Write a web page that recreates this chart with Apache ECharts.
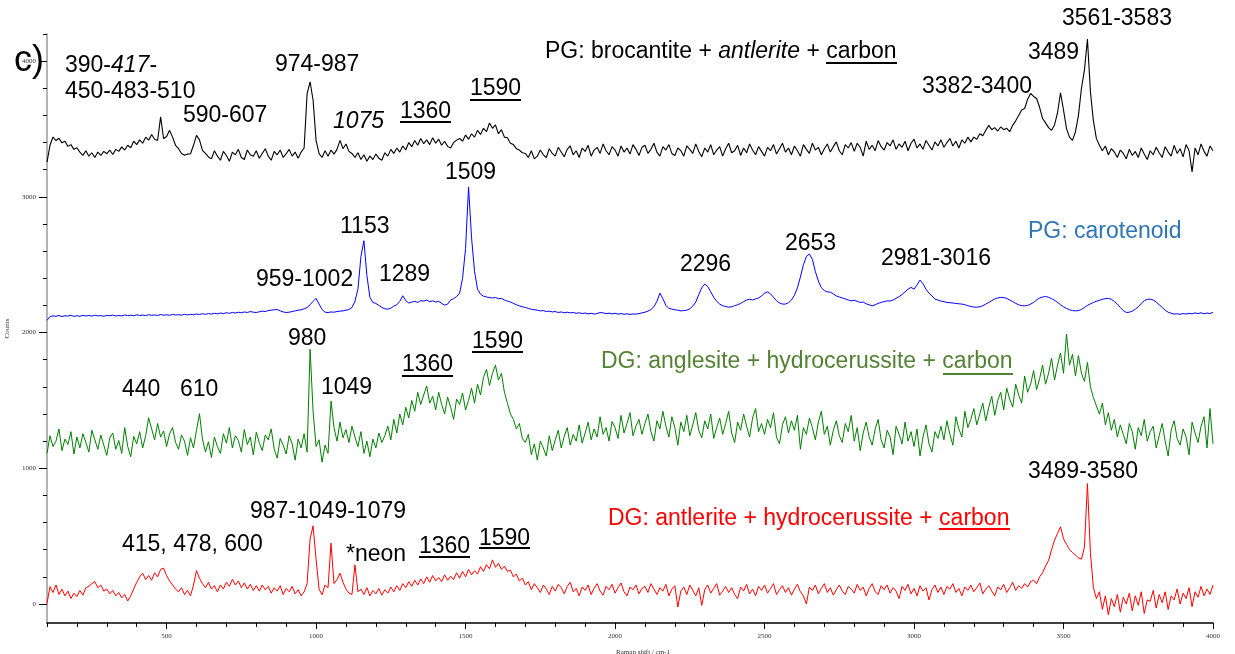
<!DOCTYPE html>
<html><head><meta charset="utf-8">
<script src="https://cdn.jsdelivr.net/npm/echarts@6/dist/echarts.min.js"></script>
<style>html,body{margin:0;padding:0;background:#fff}#chart{width:1235px;height:654px}</style>
</head><body><div id="chart"></div>
<script>
const ramanShift = [
100,110,120,130,140,150,160,170,180,190,
200,210,220,230,240,250,260,270,280,290,
300,310,320,330,340,350,360,370,380,390,
400,410,420,430,440,450,460,470,480,490,
500,510,520,530,540,550,560,570,580,590,
600,610,620,630,640,650,660,670,680,690,
700,710,720,730,740,750,760,770,780,790,
800,810,820,830,840,850,860,870,880,890,
900,910,920,930,940,950,960,970,980,990,
1000,1010,1020,1030,1040,1050,1060,1070,1080,1090,
1100,1110,1120,1130,1140,1150,1160,1170,1180,1190,
1200,1210,1220,1230,1240,1250,1260,1270,1280,1290,
1300,1310,1320,1330,1340,1350,1360,1370,1380,1390,
1400,1410,1420,1430,1440,1450,1460,1470,1480,1490,
1500,1510,1520,1530,1540,1550,1560,1570,1580,1590,
1600,1610,1620,1630,1640,1650,1660,1670,1680,1690,
1700,1710,1720,1730,1740,1750,1760,1770,1780,1790,
1800,1810,1820,1830,1840,1850,1860,1870,1880,1890,
1900,1910,1920,1930,1940,1950,1960,1970,1980,1990,
2000,2010,2020,2030,2040,2050,2060,2070,2080,2090,
2100,2110,2120,2130,2140,2150,2160,2170,2180,2190,
2200,2210,2220,2230,2240,2250,2260,2270,2280,2290,
2300,2310,2320,2330,2340,2350,2360,2370,2380,2390,
2400,2410,2420,2430,2440,2450,2460,2470,2480,2490,
2500,2510,2520,2530,2540,2550,2560,2570,2580,2590,
2600,2610,2620,2630,2640,2650,2660,2670,2680,2690,
2700,2710,2720,2730,2740,2750,2760,2770,2780,2790,
2800,2810,2820,2830,2840,2850,2860,2870,2880,2890,
2900,2910,2920,2930,2940,2950,2960,2970,2980,2990,
3000,3010,3020,3030,3040,3050,3060,3070,3080,3090,
3100,3110,3120,3130,3140,3150,3160,3170,3180,3190,
3200,3210,3220,3230,3240,3250,3260,3270,3280,3290,
3300,3310,3320,3330,3340,3350,3360,3370,3380,3390,
3400,3410,3420,3430,3440,3450,3460,3470,3480,3490,
3500,3510,3520,3530,3540,3550,3560,3570,3580,3590,
3600,3610,3620,3630,3640,3650,3660,3670,3680,3690,
3700,3710,3720,3730,3740,3750,3760,3770,3780,3790,
3800,3810,3820,3830,3840,3850,3860,3870,3880,3890,
3900,3910,3920,3930,3940,3950,3960,3970,3980,3990,
4000];

// PG: brocantite + antlerite + carbon
const pgBrocantite = [
3256,3380,3441,3415,3432,3398,3410,3372,3385,3350,
3362,3330,3306,3340,3300,3325,3290,3330,3305,3335,
3318,3345,3312,3350,3335,3368,3345,3380,3362,3410,
3385,3420,3395,3440,3418,3460,3425,3416,3589,3428,
3445,3490,3440,3380,3355,3320,3306,3315,3318,3380,
3453,3420,3343,3320,3294,3280,3340,3300,3270,3335,
3305,3262,3330,3310,3350,3290,3275,3345,3310,3300,
3340,3285,3320,3355,3300,3270,3335,3310,3345,3290,
3318,3350,3300,3330,3285,3330,3360,3760,3848,3712,
3416,3318,3290,3340,3300,3345,3315,3350,3416,3355,
3390,3335,3320,3290,3325,3275,3310,3262,3300,3275,
3315,3285,3270,3325,3300,3350,3320,3360,3330,3375,
3345,3400,3370,3415,3380,3430,3392,3420,3385,3435,
3395,3425,3380,3410,3372,3360,3400,3418,3430,3410,
3455,3425,3465,3440,3490,3460,3505,3480,3545,3505,
3530,3465,3495,3440,3435,3395,3385,3355,3345,3325,
3320,3290,3340,3280,3300,3345,3310,3290,3355,3320,
3300,3365,3330,3295,3350,3375,3310,3340,3290,3360,
3335,3380,3300,3345,3365,3320,3390,3340,3310,3370,
3345,3300,3375,3330,3360,3315,3385,3350,3305,3365,
3380,3320,3350,3395,3330,3300,3370,3345,3385,3320,
3305,3360,3340,3300,3375,3350,3320,3390,3335,3295,
3360,3330,3385,3310,3345,3370,3300,3355,3395,3325,
3340,3380,3305,3360,3325,3390,3345,3310,3370,3335,
3300,3365,3340,3385,3315,3355,3395,3330,3360,3310,
3375,3340,3300,3385,3350,3320,3395,3345,3365,3310,
3355,3390,3330,3370,3405,3340,3310,3385,3360,3400,
3335,3395,3365,3300,3410,3350,3380,3340,3415,3370,
3345,3400,3375,3420,3350,3390,3365,3410,3340,3395,
3425,3360,3390,3350,3415,3380,3345,3405,3375,3420,
3365,3400,3430,3375,3410,3360,3420,3395,3440,3405,
3440,3425,3465,3450,3490,3527,3495,3510,3485,3515,
3495,3505,3480,3527,3560,3600,3640,3651,3720,3762,
3740,3725,3660,3577,3545,3510,3490,3530,3620,3767,
3640,3503,3440,3416,3480,3600,3800,3934,4163,3774,
3560,3429,3380,3340,3375,3310,3355,3330,3290,3345,
3320,3280,3350,3305,3335,3290,3360,3315,3275,3340,
3310,3365,3325,3290,3370,3330,3300,3380,3320,3355,
3295,3385,3340,3184,3360,3310,3390,3335,3300,3375,
3340];

// PG: carotenoid
const pgCarotenoid = [
2090,2118,2123,2120,2126,2118,2124,2121,2128,2119,
2124,2120,2127,2122,2126,2121,2128,2123,2125,2120,
2127,2124,2129,2122,2126,2123,2130,2125,2128,2124,
2131,2126,2129,2125,2132,2127,2130,2126,2133,2128,
2131,2127,2134,2129,2132,2128,2135,2130,2134,2131,
2137,2133,2139,2134,2140,2136,2142,2138,2144,2140,
2146,2142,2148,2144,2150,2146,2152,2148,2155,2150,
2148,2153,2158,2155,2162,2165,2168,2170,2160,2152,
2148,2150,2155,2160,2165,2168,2175,2185,2205,2230,
2252,2210,2170,2150,2148,2152,2150,2155,2158,2160,
2165,2170,2185,2230,2320,2560,2677,2420,2260,2222,
2215,2200,2185,2175,2172,2180,2195,2205,2230,2271,
2235,2218,2225,2230,2222,2235,2232,2240,2228,2234,
2225,2230,2215,2202,2210,2240,2250,2265,2290,2400,
2620,3072,2700,2450,2320,2283,2268,2262,2258,2255,
2258,2250,2252,2240,2232,2225,2215,2205,2197,2190,
2185,2178,2172,2168,2165,2160,2162,2155,2158,2152,
2155,2148,2152,2146,2150,2145,2148,2142,2146,2140,
2144,2138,2142,2136,2140,2148,2145,2140,2143,2138,
2142,2136,2140,2135,2138,2134,2137,2136,2140,2145,
2150,2158,2170,2190,2230,2291,2250,2200,2178,2173,
2168,2165,2160,2162,2165,2175,2195,2225,2280,2330,
2357,2340,2300,2260,2230,2210,2198,2192,2187,2190,
2198,2205,2215,2228,2240,2246,2240,2248,2255,2270,
2290,2300,2285,2260,2235,2218,2210,2210,2220,2240,
2275,2330,2410,2500,2560,2579,2540,2450,2380,2330,
2310,2300,2298,2285,2270,2262,2255,2248,2240,2234,
2238,2230,2222,2225,2212,2205,2197,2205,2215,2222,
2228,2234,2232,2240,2252,2265,2280,2300,2320,2333,
2320,2350,2387,2360,2320,2290,2270,2246,2240,2232,
2228,2222,2220,2218,2215,2212,2210,2205,2198,2192,
2188,2187,2190,2198,2210,2222,2235,2248,2255,2259,
2258,2252,2240,2228,2215,2205,2198,2197,2200,2210,
2222,2240,2255,2262,2266,2260,2250,2238,2222,2205,
2190,2178,2168,2162,2160,2162,2170,2185,2200,2212,
2222,2230,2238,2245,2250,2252,2245,2230,2210,2185,
2162,2148,2150,2158,2172,2190,2215,2235,2245,2246,
2240,2225,2205,2185,2165,2150,2142,2136,2138,2135,
2140,2136,2142,2138,2145,2140,2146,2138,2144,2140,
2150];

// DG: anglesite + hydrocerussite + carbon
const dgAnglesite = [
1110,1240,1160,1200,1290,1130,1215,1175,1270,1105,
1230,1150,1255,1190,1120,1280,1210,1140,1245,1170,
1095,1225,1260,1140,1205,1110,1300,1160,1085,1235,
1180,1270,1150,1240,1372,1290,1210,1330,1230,1275,
1160,1255,1300,1190,1140,1245,1200,1095,1225,1150,
1280,1402,1215,1120,1195,1080,1230,1160,1110,1255,
1185,1300,1150,1240,1205,1120,1285,1175,1230,1100,
1265,1190,1130,1245,1210,1290,1140,1075,1220,1170,
1105,1240,1180,1060,1215,1150,1255,1120,1877,1420,
1160,1210,1045,1170,1110,1495,1300,1200,1340,1225,
1285,1190,1310,1230,1160,1270,1110,1200,1085,1215,
1150,1260,1190,1240,1310,1210,1360,1260,1400,1320,
1450,1370,1500,1420,1560,1470,1540,1606,1480,1530,
1430,1560,1470,1400,1525,1450,1360,1510,1470,1555,
1430,1500,1590,1480,1620,1540,1670,1729,1610,1700,
1760,1650,1700,1560,1480,1400,1360,1290,1330,1220,
1190,1250,1100,1180,1060,1200,1150,1090,1240,1130,
1210,1280,1150,1235,1300,1170,1250,1200,1320,1185,
1260,1340,1210,1290,1230,1380,1250,1300,1200,1345,
1300,1220,1390,1260,1330,1410,1240,1310,1360,1250,
1330,1400,1270,1200,1350,1290,1420,1310,1230,1380,
1300,1170,1340,1270,1390,1240,1320,1410,1280,1225,
1350,1290,1400,1220,1300,1370,1250,1330,1420,1260,
1190,1340,1280,1400,1310,1230,1370,1440,1270,1330,
1250,1360,1300,1410,1230,1180,1320,1380,1260,1350,
1280,1390,1140,1300,1250,1370,1300,1210,1340,1420,
1250,1310,1170,1280,1350,1240,1190,1330,1270,1390,
1200,1300,1130,1260,1340,1230,1170,1290,1360,1210,
1150,1280,1230,1100,1310,1250,1180,1340,1200,1270,
1160,1290,1090,1230,1320,1180,1120,1270,1220,1310,
1210,1350,1250,1170,1380,1290,1230,1420,1300,1360,
1440,1320,1400,1480,1350,1450,1530,1390,1500,1560,
1430,1590,1510,1450,1620,1540,1480,1680,1560,1620,
1720,1580,1660,1760,1620,1700,1810,1650,1760,1850,
1700,1988,1760,1840,1680,1830,1700,1640,1780,1600,
1520,1460,1400,1480,1320,1410,1280,1360,1230,1320,
1250,1180,1330,1270,1140,1300,1240,1360,1200,1270,
1310,1150,1240,1330,1200,1090,1280,1350,1220,1170,
1290,1230,1100,1340,1260,1190,1310,1380,1150,1440,
1180];

// DG: antlerite + hydrocerussite + carbon
const dgAntlerite = [
5,128,85,140,70,110,60,95,40,80,
55,100,65,120,130,150,165,120,140,95,
110,75,100,60,85,45,70,22,60,110,
160,200,227,180,210,175,230,200,255,264,
210,170,140,110,90,120,70,100,60,140,
246,190,150,120,160,110,135,90,140,110,
160,130,182,140,170,120,155,110,145,100,
135,95,140,105,130,80,120,95,135,70,
115,90,130,75,105,60,90,150,480,576,
330,110,68,140,120,448,150,180,227,160,
110,80,70,288,90,110,70,120,60,100,
75,115,65,105,80,125,90,135,100,150,
120,165,130,175,140,185,150,200,160,210,
170,195,165,215,175,205,180,230,190,240,
200,255,215,245,220,275,240,290,260,325,
270,300,255,280,240,250,200,220,170,190,
140,165,105,150,120,85,140,110,70,130,
95,145,120,75,130,160,90,115,60,125,
100,140,70,115,150,95,65,130,105,145,
80,120,155,90,60,125,105,140,75,115,
130,85,150,110,70,120,95,145,60,110,
135,-22,95,125,70,140,100,60,120,-10,
105,140,80,115,150,65,95,130,85,120,
70,40,125,95,145,75,110,60,130,100,
140,80,115,150,70,105,135,85,120,65,
110,145,90,60,0,125,100,140,75,115,
150,85,120,65,105,140,95,70,130,110,
80,145,100,125,60,115,150,90,70,135,
105,140,80,120,95,40,130,100,145,75,
115,60,135,95,120,30,105,140,85,125,
70,130,110,150,85,115,60,125,100,140,
90,120,155,75,110,135,95,60,125,105,
145,85,120,160,100,135,115,150,125,165,
175,150,200,230,280,320,400,470,520,569,
480,440,400,380,360,340,330,420,887,380,
120,40,90,-40,60,-80,40,-20,70,-60,
50,0,80,-50,60,-10,90,-70,30,20,
100,-30,70,10,90,-40,60,30,110,0,
80,40,120,-20,90,50,130,60,110,70,
140];

const yLabelTicks = [0, 1000, 2000, 3000, 4000];
const yMinorTicks = [0,200,400,600,800,1000,1200,1400,1600,1800,2000,2200,2400,2600,2800,3000,3200,3400,3600,3800,4000,4200];
const xLabelTicks = [500, 1000, 1500, 2000, 2500, 3000, 3500, 4000];
const xMinorTicks = [100,200,300,400,500,600,700,800,900,1000,1100,1200,1300,1400,1500,1600,1700,1800,1900,2000,
  2100,2200,2300,2400,2500,2600,2700,2800,2900,3000,3100,3200,3300,3400,3500,3600,3700,3800,3900,4000];

[pgBrocantite, pgCarotenoid, dgAnglesite, dgAntlerite].forEach((a, k) => {
  if (a.length !== ramanShift.length) console.error('length mismatch', k, a.length, ramanShift.length);
});

function pairs(ys) { return ramanShift.map((x, i) => [x, ys[i]]); }

const SANS = '"Liberation Sans", Arial, sans-serif';
const SERIF = '"Liberation Serif", "Times New Roman", serif';
const FS = 23;

function txt(text, x, y, color, extra) {
  const style = {
    text: text, x: x, y: y, fill: color || '#000',
    fontSize: FS, fontFamily: SANS,
    textAlign: 'left', textVerticalAlign: 'middle', align: 'left', verticalAlign: 'middle',
    rich: {
      i: { fontSize: FS, fontFamily: SANS, fontStyle: 'italic', fill: color || '#000' }
    }
  };
  Object.assign(style, extra || {});
  return { type: 'text', z: 10, silent: true, style: style };
}
function uline(x1, x2, y, color) {
  return { type: 'line', z: 10, silent: true, shape: { x1: x1, y1: y, x2: x2, y2: y },
    style: { stroke: color || '#000', lineWidth: 2 } };
}

const BLUE_T = '#2e75b6', GREEN_T = '#548235', RED_T = '#ff0000';

const graphics = [
  txt('c)', 14, 61, '#000', { fontSize: 36 }),
  // PG brocantite
  txt('390-{i|417}-', 65, 66),
  txt('450-483-510', 65, 92),
  txt('590-607', 183, 116),
  txt('974-987', 275, 65),
  txt('{i|1075}', 333, 122),
  txt('1360', 400, 112), uline(400, 451, 122),
  txt('1590', 470, 89), uline(470, 521, 100),
  txt('PG: brocantite + {i|antlerite} + carbon', 545, 52), uline(826, 897, 63),
  txt('3382-3400', 922, 87),
  txt('3489', 1028, 53),
  txt('3561-3583', 1062, 19),
  // PG carotenoid
  txt('1509', 445, 173),
  txt('1153', 340, 227),
  txt('959-1002', 256, 280),
  txt('1289', 379, 275),
  txt('2296', 680, 265),
  txt('2653', 785, 244),
  txt('2981-3016', 881, 259),
  txt('PG: carotenoid', 1028, 232, BLUE_T),
  // DG anglesite
  txt('980', 288, 339),
  txt('440', 122, 390),
  txt('610', 180, 390),
  txt('1049', 321, 388),
  txt('1360', 402, 365), uline(402, 453, 376),
  txt('1590', 472, 342), uline(472, 523, 352),
  txt('DG: anglesite + hydrocerussite + carbon', 601, 362, GREEN_T), uline(943, 1013, 374, GREEN_T),
  // DG antlerite
  txt('987-1049-1079', 250, 512),
  txt('415, 478, 600', 122, 545),
  txt('*neon', 346, 555),
  txt('1360', 419, 547), uline(419, 470, 557),
  txt('1590', 479, 539), uline(479, 530, 548),
  txt('DG: antlerite + hydrocerussite + carbon', 608, 519, RED_T), uline(939, 1010, 529, RED_T),
  txt('3489-3580', 1028, 472)
];

const tickLabel = { fontFamily: SERIF, fontSize: 7, color: '#333' };
const plain = v => String(v);

const chart = echarts.init(document.getElementById('chart'), null, { renderer: 'canvas' });
chart.setOption({
  animation: false,
  backgroundColor: '#fff',
  grid: { left: 47, right: 22, top: 34, bottom: 31, containLabel: false, outerBoundsMode: 'none' },
  xAxis: [
    {
      type: 'value', min: 100, max: 4000, position: 'bottom',
      axisLine: { show: true, onZero: false, lineStyle: { color: '#000', width: 1.5 } },
      axisTick: { show: true, customValues: xMinorTicks, length: 4, lineStyle: { color: '#000' } },
      axisLabel: Object.assign({ customValues: xLabelTicks, margin: 10, formatter: plain }, tickLabel),
      splitLine: { show: false },
      name: 'Raman shift / cm-1', nameLocation: 'middle', nameGap: 26,
      nameTextStyle: Object.assign({ padding: [0, 0, 0, 26] }, tickLabel)
    },
    {
      type: 'value', min: 100, max: 4000, position: 'bottom',
      axisLine: { show: false, onZero: false },
      axisTick: { show: true, customValues: xLabelTicks, length: 6, lineStyle: { color: '#000' } },
      axisLabel: { show: false }, splitLine: { show: false }
    }
  ],
  yAxis: [
    {
      type: 'value', min: -140, max: 4200, position: 'left',
      axisLine: { show: true, onZero: false, lineStyle: { color: '#9a9a9a', width: 1.5 } },
      axisTick: { show: true, customValues: yLabelTicks, length: 8, lineStyle: { color: '#000' } },
      axisLabel: Object.assign({ customValues: yLabelTicks, margin: 11, formatter: plain }, tickLabel),
      splitLine: { show: false },
      name: 'Counts', nameLocation: 'middle', nameGap: 28, nameRotate: 90,
      nameTextStyle: tickLabel
    },
    {
      type: 'value', min: -140, max: 4200, position: 'left',
      axisLine: { show: false, onZero: false },
      axisTick: { show: true, customValues: yMinorTicks, length: 4, lineStyle: { color: '#000' } },
      axisLabel: { show: false }, splitLine: { show: false }
    }
  ],
  series: [
    { name: 'PG: brocantite + antlerite + carbon', type: 'line', data: pairs(pgBrocantite), showSymbol: false, symbol: 'none',
      lineStyle: { color: '#000', width: 1.1 }, itemStyle: { color: '#000' } },
    { name: 'PG: carotenoid', type: 'line', data: pairs(pgCarotenoid), showSymbol: false, symbol: 'none',
      lineStyle: { color: '#0000ff', width: 1 }, itemStyle: { color: '#0000ff' } },
    { name: 'DG: anglesite + hydrocerussite + carbon', type: 'line', data: pairs(dgAnglesite), showSymbol: false, symbol: 'none',
      lineStyle: { color: '#008000', width: 1 }, itemStyle: { color: '#008000' } },
    { name: 'DG: antlerite + hydrocerussite + carbon', type: 'line', data: pairs(dgAntlerite), showSymbol: false, symbol: 'none',
      lineStyle: { color: '#ff0000', width: 1 }, itemStyle: { color: '#ff0000' } }
  ],
  graphic: graphics
});
</script>
</body></html>
